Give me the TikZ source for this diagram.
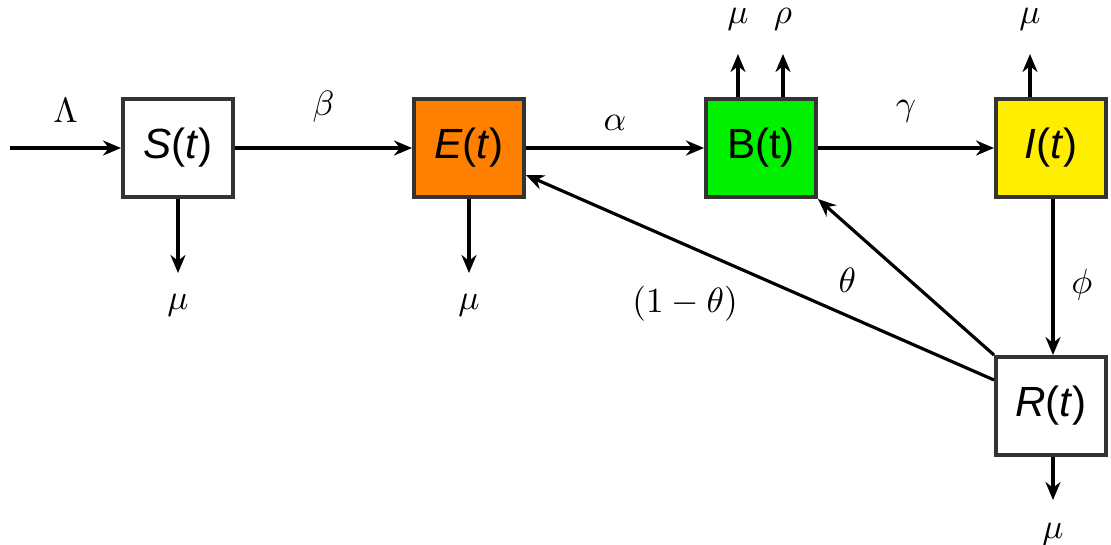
\documentclass[tikz,border=0pt]{standalone}
\usepackage{amsmath,fontspec}
\setsansfont{Liberation Sans}
\usetikzlibrary{arrows.meta,calc}
\definecolor{figE}{RGB}{255,128,0}
\definecolor{figB}{RGB}{0,240,0}
\definecolor{figI}{RGB}{255,238,0}

\begin{document}
\begin{tikzpicture}[x=0.01cm,y=-0.01cm,>={Stealth[length=1.8mm,width=1.5mm]},
  box/.style={draw=black!80,line width=1.1pt,minimum width=1.1cm,minimum height=0.98cm,inner sep=0pt,font=\sffamily\fontsize{12}{14}\selectfont},
  flow/.style={->,line width=0.9pt}]
\useasboundingbox (0,0) rectangle (1111,545);
\node[box] (S) at (178,148) {\textit{S}(\textit{t})};
\node[box,fill=figE] (E) at (469,148) {\textit{E}(\textit{t})};
\node[box,fill=figB] (B) at (761,148) {B(t)};
\node[box,fill=figI] (I) at (1051,148) {\textit{I}(\textit{t})};
\node[box] (R) at (1051,406) {\textit{R}(\textit{t})};
\coordinate (in) at (10,148);
\coordinate (Sout) at (178,273); \coordinate (Eout) at (469,273);
\coordinate (Bmu) at (738,54); \coordinate (Brho) at (783,54);
\coordinate (Iout) at (1030,54); \coordinate (Rout) at (1053,500);
\draw[flow] (in)--(S) node[midway,above=0.12cm]{$\Lambda$};
\draw[flow] (S)--(E) node[midway,above=0.12cm]{$\beta$};
\draw[flow] (E)--(B) node[midway,above=0.04cm]{$\alpha$};
\draw[flow] (B)--(I) node[midway,above=0.12cm]{$\gamma$};
\draw[flow] (S.south)--(Sout) node[below=0.08cm]{$\mu$};
\draw[flow] (E.south)--(Eout) node[below=0.08cm]{$\mu$};
\draw[flow] (B.north -| Bmu)--(Bmu) node[above=0.1cm]{$\mu$};
\draw[flow] (B.north -| Brho)--(Brho) node[above=0.1cm]{$\rho$};
\draw[flow] (I.north -| Iout)--(Iout) node[above=0.1cm]{$\mu$};
\draw[flow] (I.south -| Rout)--(R.north -| Rout) node[pos=0.55,right=0.05cm]{$\phi$};
\draw[flow] (R.south -| Rout)--(Rout) node[below=0.1cm]{$\mu$};
\draw[flow] (R.north west)--(B.south east) node[pos=0.48,left=0.4cm]{$\theta$};
\draw[flow] ([yshift=0.26cm]R.west)--([yshift=-0.27cm]E.east) node[pos=0.66,below=0.28cm]{$(1-\theta)$};
\end{tikzpicture}
\end{document}
